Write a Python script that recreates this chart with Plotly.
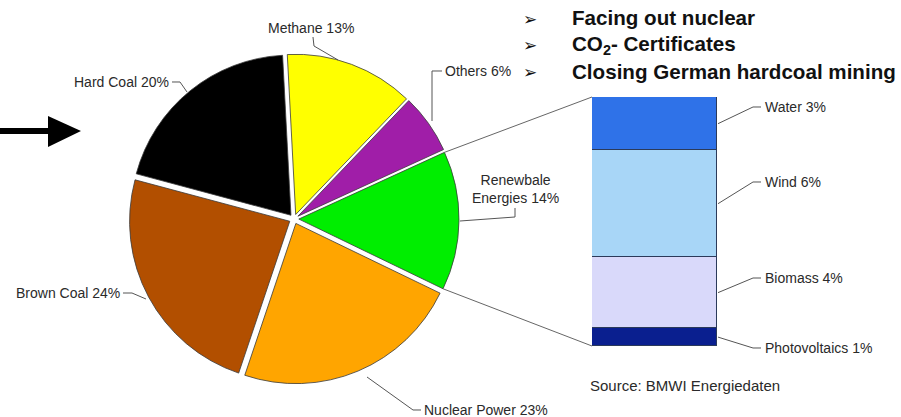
import math
import plotly.graph_objects as go

W, H = 901, 417

# Electricity generation mix (%)
mix_names = ["Methane", "Others", "Renewbale<br>Energies", "Nuclear Power", "Brown Coal", "Hard Coal"]
mix_values = [13, 6, 14, 23, 24, 20]
mix_colors = ["#ffff00", "#a01ea8", "#00ee00", "#ffa500", "#b24f00", "#000000"]

# Breakdown of renewable energies (%), stacked bottom to top
ren_names = ["Photovoltaics", "Biomass", "Wind", "Water"]
ren_values = [1, 4, 6, 3]
ren_colors = ["#0a1f8f", "#d9d9fa", "#a8d6f7", "#2f72e8"]

bullets = ["Facing out nuclear", "CO<sub>2</sub>- Certificates", "Closing German hardcoal mining"]
source_note = "Source: BMWI Energiedaten"

FONT = "Liberation Sans, Arial, sans-serif"
TXT = "#2a2a2a"
LEAD = "#555555"


def px(x):
    return x / W


def py(y):
    return 1 - y / H


# pie geometry (pixels)
PIE_CX, PIE_CY, PIE_HALF = 294, 219, 165
PULL = 0.03
ROTATION = -3
pie_r = PIE_HALF / (1 + PULL)

# bar geometry (pixels)
BAR_L, BAR_R, BAR_T, BAR_B = 592, 717, 97, 346
ren_total = sum(ren_values)

fig = go.Figure()

fig.add_trace(go.Pie(
    labels=[n.replace("<br>", " ") for n in mix_names],
    values=mix_values,
    marker=dict(colors=mix_colors, line=dict(color="#3a3a3a", width=0.8)),
    sort=False,
    direction="clockwise",
    rotation=ROTATION,
    pull=[PULL] * len(mix_values),
    textinfo="none",
    hoverinfo="label+percent",
    showlegend=False,
    domain=dict(x=[px(PIE_CX - PIE_HALF), px(PIE_CX + PIE_HALF)],
                y=[py(PIE_CY + PIE_HALF), py(PIE_CY - PIE_HALF)]),
))

for name, val, col in zip(ren_names, ren_values, ren_colors):
    fig.add_trace(go.Bar(
        x=[0], y=[val], width=1, name=name,
        marker=dict(color=col, line=dict(color="#2b3a5a", width=1)),
        showlegend=False, hoverinfo="name+y",
    ))

shapes = []
annotations = []


def polyline(points, color=LEAD, width=1):
    d = "M " + " L ".join(f"{px(x):.5f},{py(y):.5f}" for x, y in points)
    shapes.append(dict(type="path", xref="paper", yref="paper", path=d,
                       line=dict(color=color, width=width)))


# connectors from the renewable slice to the bar
total = sum(mix_values)
ren_idx = 2
start_frac = sum(mix_values[:ren_idx]) / total
end_frac = sum(mix_values[:ren_idx + 1]) / total
mid_ang = math.radians(ROTATION + (start_frac + end_frac) / 2 * 360)
off_x = PULL * pie_r * math.sin(mid_ang)
off_y = -PULL * pie_r * math.cos(mid_ang)


def rim(frac):
    a = math.radians(ROTATION + frac * 360)
    return (PIE_CX + off_x + pie_r * math.sin(a), PIE_CY + off_y - pie_r * math.cos(a))


polyline([rim(start_frac), (BAR_L, BAR_T)], color="#666666")
polyline([rim(end_frac), (BAR_L, BAR_B)], color="#666666")

# pie labels with leader lines
pie_label_layout = [
    dict(x=311, y=28, anchor="center", lead=[(313, 37), (314, 46), (338, 60)]),
    dict(x=443, y=71, anchor="left", lead=[(442, 71), (432, 71), (432, 121)]),
    dict(x=515, y=189, anchor="center", lead=[(515, 208), (515, 217), (460, 221)]),
    dict(x=422, y=410, anchor="left", lead=[(367, 377), (413, 410), (421, 410)]),
    dict(x=122, y=293, anchor="right", lead=[(123, 293), (132, 293), (146, 299)]),
    dict(x=171, y=82, anchor="right", lead=[(172, 82), (180, 82), (187, 92)]),
]
for name, val, lay in zip(mix_names, mix_values, pie_label_layout):
    annotations.append(dict(
        x=px(lay["x"]), y=py(lay["y"]), xref="paper", yref="paper",
        text=f"{name} {val}%", showarrow=False,
        xanchor=lay["anchor"], yanchor="middle", align="center",
        font=dict(family=FONT, size=14, color=TXT),
    ))
    polyline(lay["lead"])

# bar labels with leader lines
bar_label_y = {"Water": 107, "Wind": 182, "Biomass": 278, "Photovoltaics": 348}
cum = 0
for name, val in zip(ren_names, ren_values):
    mid = BAR_B - (cum + val / 2) / ren_total * (BAR_B - BAR_T)
    cum += val
    ly = bar_label_y[name]
    polyline([(BAR_R + 1, mid), (753, ly), (761, ly)])
    annotations.append(dict(
        x=px(763), y=py(ly), xref="paper", yref="paper",
        text=f"{name} {val}%", showarrow=False,
        xanchor="left", yanchor="middle",
        font=dict(family=FONT, size=14, color=TXT),
    ))

# headline bullets
for i, line in enumerate(bullets):
    yy = 18 + i * 26.5
    annotations.append(dict(
        x=px(530), y=py(yy + 1), xref="paper", yref="paper", text="➢",
        showarrow=False, xanchor="center", yanchor="middle",
        font=dict(family="DejaVu Sans", size=17, color="#111111"),
    ))
    annotations.append(dict(
        x=px(570), y=py(yy), xref="paper", yref="paper", text=f"<b>{line}</b>",
        showarrow=False, xanchor="left", yanchor="middle",
        font=dict(family=FONT, size=20.6, color="#111111"),
    ))

annotations.append(dict(
    x=px(588), y=py(385), xref="paper", yref="paper", text=source_note,
    showarrow=False, xanchor="left", yanchor="middle",
    font=dict(family=FONT, size=15, color=TXT),
))

# pointer arrow on the left
shapes.append(dict(type="line", xref="paper", yref="paper",
                   x0=px(0), y0=py(131), x1=px(52), y1=py(131),
                   line=dict(color="#000000", width=6)))
shapes.append(dict(type="path", xref="paper", yref="paper",
                   path=f"M {px(48)},{py(116)} L {px(81)},{py(131)} L {px(48)},{py(147)} Z",
                   fillcolor="#000000", line=dict(color="#000000", width=0)))

fig.update_layout(
    width=W, height=H,
    margin=dict(l=0, r=0, t=0, b=0),
    paper_bgcolor="white", plot_bgcolor="rgba(0,0,0,0)",
    barmode="stack", bargap=0,
    xaxis=dict(domain=[px(BAR_L), px(BAR_R)], range=[-0.5, 0.5], visible=False, fixedrange=True),
    yaxis=dict(domain=[py(BAR_B), py(BAR_T)], range=[0, ren_total], visible=False, fixedrange=True),
    shapes=shapes,
    annotations=annotations,
    showlegend=False,
)

fig.write_html("out.html")
